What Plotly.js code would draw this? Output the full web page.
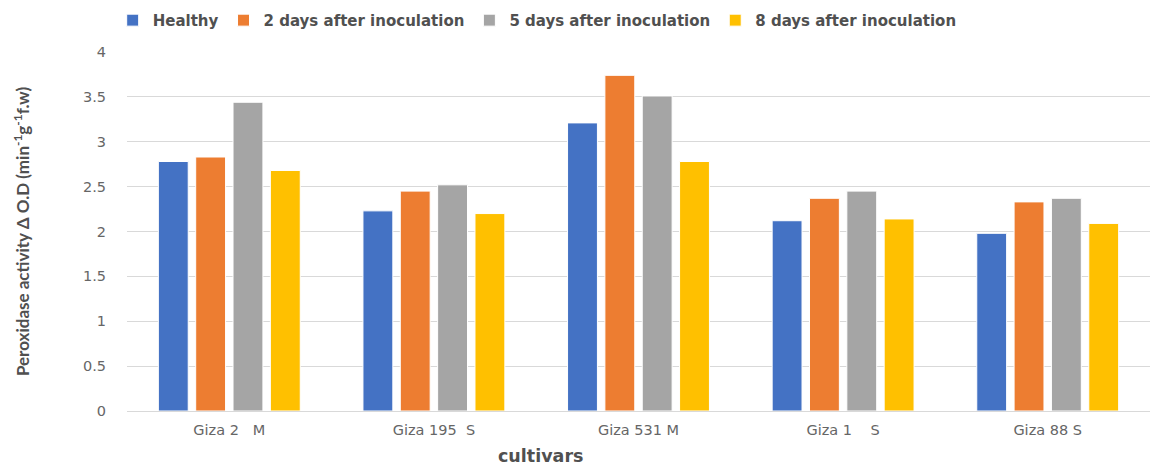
<!DOCTYPE html>
<html>
<head>
<meta charset="utf-8">
<script src="https://cdn.plot.ly/plotly-3.0.1.min.js"></script>
<style>
  html, body { margin: 0; padding: 0; background: #ffffff; }
  #chart { width: 1155px; height: 466px; }
</style>
</head>
<body>
<div id="chart"></div>
<script>
// Cultivars on the x axis (non-breaking spaces keep the original spacing)
const cultivars = ["Giza 2\u00A0\u00A0\u00A0M", "Giza 195\u00A0\u00A0S", "Giza 531 M", "Giza 1\u00A0\u00A0\u00A0\u00A0S", "Giza 88 S"];

// Peroxidase activity per treatment
const healthy = [2.78, 2.23, 3.21, 2.12, 1.98];
const days2   = [2.83, 2.45, 3.74, 2.37, 2.33];
const days5   = [3.44, 2.52, 3.51, 2.45, 2.37];
const days8   = [2.68, 2.20, 2.78, 2.14, 2.09];

const seriesNames = ["Healthy", "2 days after inoculation", "5 days after inoculation", "8 days after inoculation"];
const seriesColors = ["#4472C4", "#ED7D31", "#A5A5A5", "#FFC000"];
const seriesValues = [healthy, days2, days5, days8];

const yTicks = [0, 0.5, 1, 1.5, 2, 2.5, 3, 3.5, 4];

const tickFont = "'DejaVu Sans', sans-serif";
const titleFont = "Lato, 'DejaVu Sans', sans-serif";

const traces = seriesValues.map((vals, i) => ({
  type: "bar",
  name: seriesNames[i],
  x: cultivars,
  y: vals,
  marker: { color: seriesColors[i], line: { color: "#ffffff", width: 1 } },
  hoverinfo: "x+y+name"
}));

const layout = {
  width: 1155,
  height: 466,
  paper_bgcolor: "#ffffff",
  plot_bgcolor: "#ffffff",
  margin: { l: 127, r: 5, t: 51, b: 55 },
  barmode: "group",
  bargap: 0.27,
  bargroupgap: 0.2,
  font: { family: tickFont, color: "#666666", size: 14 },
  showlegend: true,
  legend: {
    orientation: "h",
    x: -0.014,
    xanchor: "left",
    y: 1.085,
    yanchor: "middle",
    font: { family: tickFont, size: 15, color: "#505050", weight: "bold" },
    itemwidth: 30,
    bgcolor: "rgba(0,0,0,0)"
  },
  xaxis: {
    type: "category",
    showgrid: false,
    showline: true,
    linecolor: "#d9d9d9",
    linewidth: 1,
    ticks: "",
    tickfont: { family: tickFont, size: 14.5, color: "#666666" },
    ticklabelstandoff: 6,
    zeroline: false
  },
  yaxis: {
    range: [0, 4],
    tickvals: yTicks,
    ticktext: yTicks.map(v => String(v)),
    showgrid: true,
    gridcolor: "#d9d9d9",
    gridwidth: 1,
    zeroline: false,
    showline: false,
    ticks: "",
    tickfont: { family: tickFont, size: 14.5, color: "#666666" },
    ticklabelstandoff: 20,
    title: {
      text: "Peroxidase activity \u0394 O.D (min<sup>-1</sup>g<sup>-1</sup>f.w)",
      font: { family: titleFont, size: 17, color: "#505050", weight: "bold" },
      standoff: 48
    }
  },
  annotations: [{
    text: "cultivars",
    xref: "paper",
    yref: "paper",
    x: (540 - 127) / 1023,
    y: -0.125,
    xanchor: "center",
    yanchor: "middle",
    showarrow: false,
    font: { family: tickFont, size: 17.5, color: "#505050", weight: "bold" }
  }]
};

Plotly.newPlot("chart", traces, layout, { displayModeBar: false, staticPlot: true });
</script>
</body>
</html>
